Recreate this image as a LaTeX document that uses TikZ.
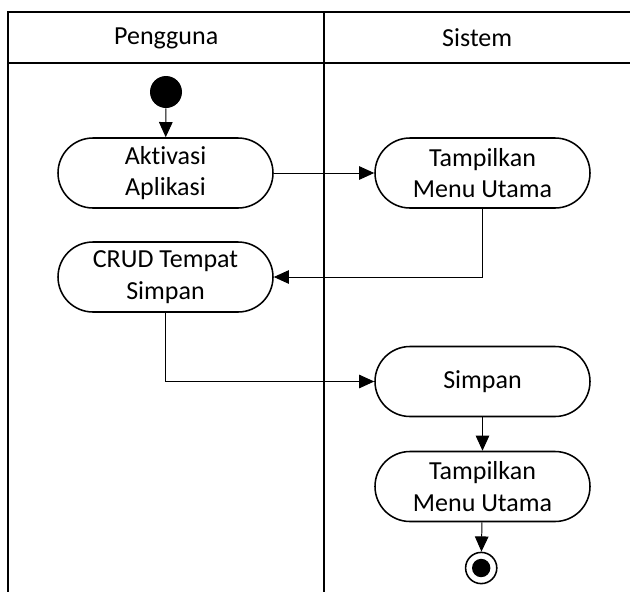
\documentclass[tikz,border=0pt]{standalone}
\usepackage{fontspec}
\setmainfont[Ligatures=NoCommon]{Carlito}
\usepackage{tikz}
\usetikzlibrary{positioning}
\usetikzlibrary{arrows.meta}
\usetikzlibrary{math}

\tikzset{
  lane/.style={black, line width=1.4pt},
  activity/.style={draw, line width=1.1pt, rectangle, rounded corners=0.875cm,
    minimum width=5.375cm, minimum height=1.75cm, align=center,
    font=\fontsize{18.5}{22.5}\selectfont},
  flow/.style={line width=0.7pt, -{Triangle[length=0.38cm,width=0.34cm]}},
  startnode/.style={circle, fill=black, inner sep=0pt, minimum size=0.8cm},
  lanetitle/.style={font=\fontsize{18.5}{22.5}\selectfont}
}

\begin{document}
\begin{tikzpicture}
      \tikzmath{
        \W = 15.75;
        \H = 14.8;
        \xL = 0.2;
        \yT = -0.3;
        \yH = -1.575;
        \xD = 8.11;
        \cA = 4.1375;
        \cB = 12.0625;
        \tA = (\xL + \xD) / 2;
        \tB = (\xD + \W) / 2;
      }

      \useasboundingbox (0,0) rectangle (\W,-\H);

      % swimlanes
      \draw[lane] (\xL,-\H) -- (\xL,\yT) -- (\W,\yT);
      \draw[lane] (\xL,\yH) -- (\W,\yH);
      \draw[lane] (\xD,\yT) -- (\xD,-\H);

      \node[lanetitle] (pengguna) at (\tA,-0.95) {Pengguna};
      \node[lanetitle] (sistem) at (\tB,-0.95) {Sistem};

      % activities
      \node[startnode] (start) at (4.15,-2.3) {};
      \node[activity] (aktivasi) at (\cA,-4.325) {Aktivasi\\Aplikasi};
      \node[activity] (menuA) at (\cB,-4.325) {Tampilkan\\Menu Utama};
      \node[activity] (crud) at (\cA,-6.925) {CRUD Tempat\\Simpan};
      \node[activity] (simpan) at (\cB,-9.5375) {Simpan};
      \node[activity] (menuB) at (\cB,-12.1625) {Tampilkan\\Menu Utama};

      \coordinate (E) at (12.03,-14.2);
      \node[circle, draw, line width=1.1pt, minimum size=0.78cm, inner sep=0pt] (end) at (E) {};
      \fill[black] (E) circle [radius=0.23];

      \draw[flow] (start) -- (aktivasi);
      \draw[flow] (aktivasi) -- (menuA);
      \draw[flow] (menuA.south) |- (crud.east);
      \draw[flow] (crud.south) |- (simpan.west);
      \draw[flow] (simpan) -- (menuB);
      \draw[flow] (menuB) -- (end);

    \end{tikzpicture}
\end{document}
